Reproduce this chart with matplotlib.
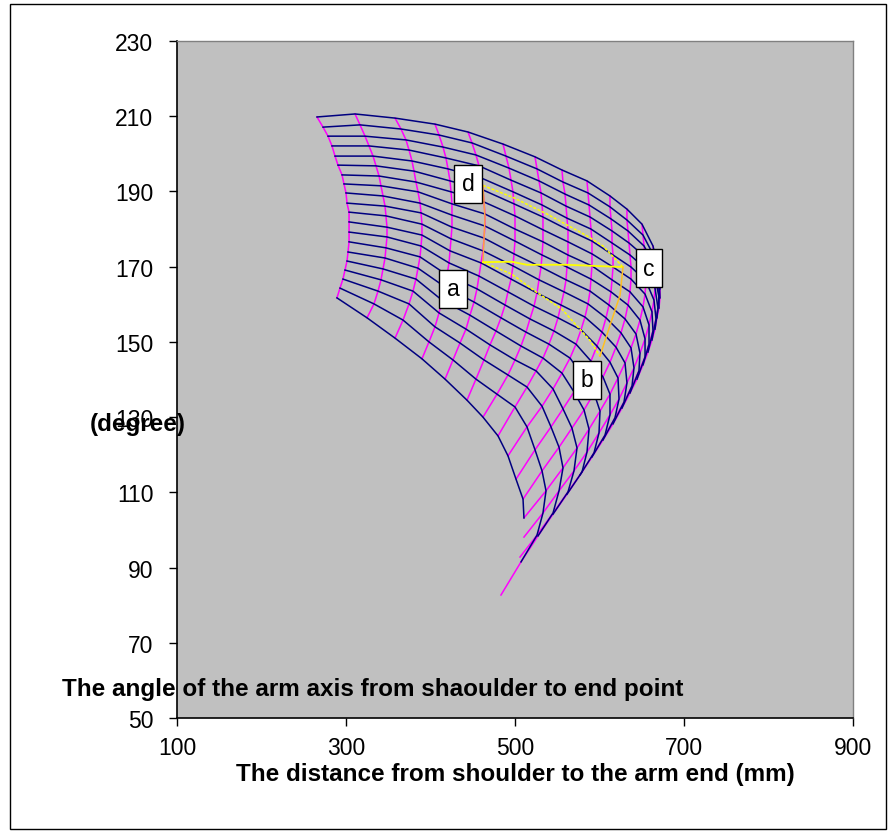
import numpy as np
import matplotlib.pyplot as plt
from matplotlib.patches import Rectangle

plt.rcParams["font.family"] = ["Liberation Sans", "DejaVu Sans"]

# mesh nodes, one list per magenta line (outer blue line first, inner last)
dist_cols = [
    [265.7, 272.8, 278.7, 283.4, 287.0, 290.5, 295.3, 297.6, 300.0, 301.2, 303.6, 303.6, 303.6, 303.6, 302.4, 301.2, 298.8, 296.4, 292.9, 289.3],
    [310.7, 316.6, 322.5, 327.2, 332.0, 335.5, 339.1, 341.4, 343.8, 346.2, 347.3, 348.5, 348.5, 347.3, 346.2, 343.8, 341.4, 337.9, 333.1, 324.9],
    [358.0, 365.1, 371.0, 374.6, 378.1, 380.5, 382.8, 385.2, 387.6, 388.8, 389.9, 389.9, 388.8, 387.6, 385.2, 382.8, 379.3, 374.6, 367.5, 358.0],
    [405.3, 410.1, 414.8, 418.3, 420.7, 423.1, 424.3, 425.4, 425.4, 425.4, 424.3, 423.1, 421.9, 419.5, 417.2, 413.6, 410.1, 405.3, 398.2, 389.9],
    [444.4, 449.1, 453.8, 457.4, 459.8, 462.1, 463.3, 464.5, 464.5, 463.3, 462.1, 459.8, 457.4, 455.0, 451.5, 446.7, 442.0, 434.9, 426.6, 417.2],
    [485.8, 489.3, 492.9, 495.3, 497.6, 498.8, 500.0, 500.0, 500.0, 498.8, 497.6, 495.3, 491.7, 488.2, 483.4, 477.5, 470.4, 463.3, 453.8, 443.2],
    [523.7, 526.0, 528.4, 530.8, 532.0, 533.1, 533.1, 533.1, 532.0, 530.8, 528.4, 526.0, 522.5, 517.7, 513.0, 507.1, 500.0, 491.7, 478.7, 462.1],
    [555.6, 556.8, 559.2, 560.4, 561.5, 562.7, 562.7, 562.7, 561.5, 560.4, 558.0, 554.4, 550.9, 546.1, 540.2, 533.1, 524.9, 514.2, 500.0, 479.9],
    [585.2, 586.4, 587.6, 588.8, 589.9, 591.1, 591.1, 591.1, 589.9, 588.8, 586.4, 582.8, 578.1, 572.2, 565.1, 555.6, 545.0, 532.0, 514.2, 491.7],
    [612.4, 612.4, 613.6, 614.8, 614.8, 616.0, 616.0, 614.8, 613.6, 611.2, 607.7, 603.0, 597.0, 589.9, 580.5, 569.8, 556.8, 542.6, 523.7, 501.2],
    [632.5, 632.5, 633.7, 634.9, 636.1, 637.3, 637.3, 636.1, 633.7, 630.2, 625.4, 619.5, 612.4, 604.1, 593.5, 581.7, 567.4, 552.1, 532.0, 509.5],
    [650.3, 651.5, 652.7, 653.9, 655.0, 655.0, 653.9, 651.5, 647.9, 643.2, 637.3, 630.2, 621.9, 612.4, 600.6, 587.6, 573.4, 556.8, 536.7, 510.6],
    [663.3, 664.5, 665.7, 665.7, 665.7, 664.5, 662.1, 658.6, 653.9, 647.9, 640.8, 632.5, 623.1, 612.4, 599.4, 585.2, 569.8, 552.1, 533.1, 510.6],
    [669.2, 670.4, 670.4, 670.4, 669.2, 666.9, 663.3, 658.6, 653.9, 646.7, 638.5, 629.0, 618.3, 606.5, 593.5, 579.3, 562.7, 545.0, 526.0, 505.9],
    [671.6, 671.6, 670.4, 668.0, 665.7, 662.1, 657.4, 651.5, 644.4, 636.1, 626.6, 616.0, 604.1, 591.1, 576.9, 561.5, 545.0, 527.2, 507.1, 483.4],
]
angle_cols = [
    [209.8, 207.1, 204.7, 202.1, 199.4, 197.0, 194.4, 192.0, 189.6, 186.9, 184.5, 181.9, 179.2, 176.6, 173.9, 171.5, 169.1, 166.7, 164.3, 161.7],
    [210.6, 207.7, 204.7, 202.1, 199.4, 196.8, 194.1, 191.5, 188.8, 186.1, 183.5, 180.5, 177.9, 175.0, 172.3, 169.4, 166.5, 163.5, 160.1, 156.4],
    [209.5, 206.6, 203.7, 201.0, 198.1, 195.4, 192.5, 189.9, 186.9, 184.3, 181.3, 178.4, 175.5, 172.6, 169.6, 166.7, 163.5, 160.1, 155.8, 151.0],
    [207.9, 205.0, 201.8, 198.9, 196.0, 192.8, 189.9, 186.7, 183.7, 180.5, 177.4, 174.2, 171.0, 167.8, 164.6, 161.1, 157.7, 154.0, 150.0, 145.5],
    [205.8, 202.9, 199.7, 196.8, 193.6, 190.4, 187.2, 184.0, 180.8, 177.6, 174.2, 171.0, 167.5, 164.1, 160.6, 157.1, 153.4, 149.7, 145.2, 140.1],
    [202.6, 199.4, 196.2, 193.0, 189.9, 186.7, 183.5, 180.0, 176.8, 173.4, 170.2, 166.7, 163.3, 159.8, 156.4, 152.9, 149.2, 145.2, 140.1, 134.5],
    [199.2, 196.0, 192.8, 189.6, 186.4, 183.2, 179.8, 176.6, 173.1, 169.9, 166.5, 163.0, 159.5, 156.1, 152.6, 148.9, 145.2, 141.2, 136.1, 130.0],
    [195.7, 192.5, 189.3, 186.1, 182.9, 179.8, 176.6, 173.1, 169.9, 166.5, 163.3, 159.8, 156.4, 152.9, 149.4, 145.7, 142.3, 138.0, 132.7, 125.0],
    [192.8, 189.6, 186.4, 183.2, 180.0, 176.8, 173.4, 170.2, 166.7, 163.5, 160.1, 156.6, 153.2, 149.4, 145.7, 141.7, 137.5, 132.9, 127.4, 119.7],
    [188.8, 185.9, 182.7, 179.5, 176.3, 173.1, 169.9, 166.5, 163.3, 159.8, 156.4, 152.6, 148.9, 144.9, 140.9, 136.7, 132.2, 127.4, 121.3, 113.5],
    [185.3, 182.4, 179.5, 176.3, 173.1, 169.9, 166.7, 163.3, 159.8, 156.1, 152.4, 148.6, 144.6, 140.7, 136.4, 131.9, 127.1, 122.0, 115.7, 108.2],
    [181.3, 178.4, 175.5, 172.6, 169.4, 166.2, 162.7, 159.3, 155.8, 152.1, 148.4, 144.4, 140.4, 136.1, 131.6, 126.8, 121.8, 116.5, 110.4, 103.2],
    [175.5, 172.8, 170.2, 167.3, 164.3, 161.1, 158.0, 154.5, 150.8, 147.0, 143.1, 139.1, 134.8, 130.6, 125.8, 120.7, 115.7, 110.4, 104.5, 98.1],
    [169.9, 167.3, 164.6, 161.9, 159.0, 156.1, 152.9, 149.4, 146.0, 142.3, 138.3, 134.0, 129.8, 125.2, 120.5, 115.4, 110.1, 104.5, 98.6, 92.8],
    [164.1, 161.7, 159.0, 156.4, 153.4, 150.5, 147.3, 143.9, 140.1, 136.4, 132.4, 128.2, 123.9, 119.4, 114.6, 109.5, 104.2, 98.4, 91.5, 82.7],
]
# last magenta line reached by each blue line (the inner one stops early)
blue_last_col = [14] * 19 + [11]

# highlighted region (yellow)
top_x = [462.0, 497.6, 537.8, 585.1, 604.1, 627.8]
top_y = [191.6, 188.4, 184.0, 178.2, 175.5, 169.9]
left_x = [462.0, 464.5, 462.0]
left_y = [191.6, 183.0, 171.2]
mid_x = [462.0, 496.3, 514.0, 561.0, 627.8]
mid_y = [171.2, 171.3, 170.5, 170.5, 169.9]
low_x = [462.0, 496.3, 523.6, 555.5, 588.7, 600.6]
low_y = [171.2, 168.0, 163.5, 158.7, 150.4, 146.2]
right_x = [627.8, 624.3, 612.4, 600.6]
right_y = [169.9, 162.4, 154.4, 146.2]

labels = ["a", "b", "c", "d"]
label_x = [426.6, 585.2, 658.6, 444.4]
label_y = [164.1, 139.9, 169.6, 192.0]

dist = np.array(dist_cols).T
angle = np.array(angle_cols).T

W, H = 894, 837
fig = plt.figure(figsize=(W / 100, H / 100), dpi=100)
ax = fig.add_axes([177 / W, 1 - 719 / H, 676 / W, 677 / H])
ax.set_facecolor("#c0c0c0")

for j in range(dist.shape[1]):
    ax.plot(dist[:, j], angle[:, j], color="#ff00ff", lw=1.1, zorder=2)
for i in range(dist.shape[0]):
    n = blue_last_col[i] + 1
    ax.plot(dist[i, :n], angle[i, :n], color="#000080", lw=1.1, zorder=3)

ax.plot(top_x, top_y, color="#ffff00", lw=1.1, ls=(0, (2, 1)), zorder=4)
ax.plot(left_x, left_y, color="#ffa040", lw=1.1, zorder=4)
ax.plot(mid_x, mid_y, color="#ffff00", lw=1.3, zorder=4)
ax.plot(low_x, low_y, color="#ffff00", lw=1.1, ls=(0, (2, 1)), zorder=4)
ax.plot(right_x, right_y, color="#ffc020", lw=1.1, zorder=4)

for t, x, y in zip(labels, label_x, label_y):
    ax.text(x, y, t, ha="center", va="center", fontsize=16.5, zorder=5,
            bbox=dict(boxstyle="square,pad=0.32", fc="white", ec="black", lw=1))

ax.set_xlim(100, 900)
ax.set_ylim(50, 230)
ax.set_xticks([100, 300, 500, 700, 900])
ax.set_yticks(np.arange(50, 231, 20))
ax.tick_params(direction="out", length=6, width=1, labelsize=16.5)
ax.tick_params(axis="y", pad=11)
ax.tick_params(axis="x", pad=7)
for s in ["left", "bottom"]:
    ax.spines[s].set_color("black")
    ax.spines[s].set_linewidth(1.2)
for s in ["top", "right"]:
    ax.spines[s].set_color("#808080")
    ax.spines[s].set_linewidth(1)

fig.text(90 / W, 1 - 424 / H, "(degree)", fontsize=17.5, fontweight="bold",
         ha="left", va="center")
fig.text(62 / W, 1 - 690 / H, "The angle of the arm axis from shaoulder to end point",
         fontsize=17.5, fontweight="bold", ha="left", va="center")
fig.text(515 / W, 1 - 775 / H, "The distance from shoulder to the arm end (mm)",
         fontsize=17.5, fontweight="bold", ha="center", va="center")

fig.patches.append(Rectangle((10 / W, 1 - 830 / H), 876 / W, 825 / H,
                             transform=fig.transFigure, fill=False,
                             ec="black", lw=1))

fig.savefig("out.png", dpi=100)
